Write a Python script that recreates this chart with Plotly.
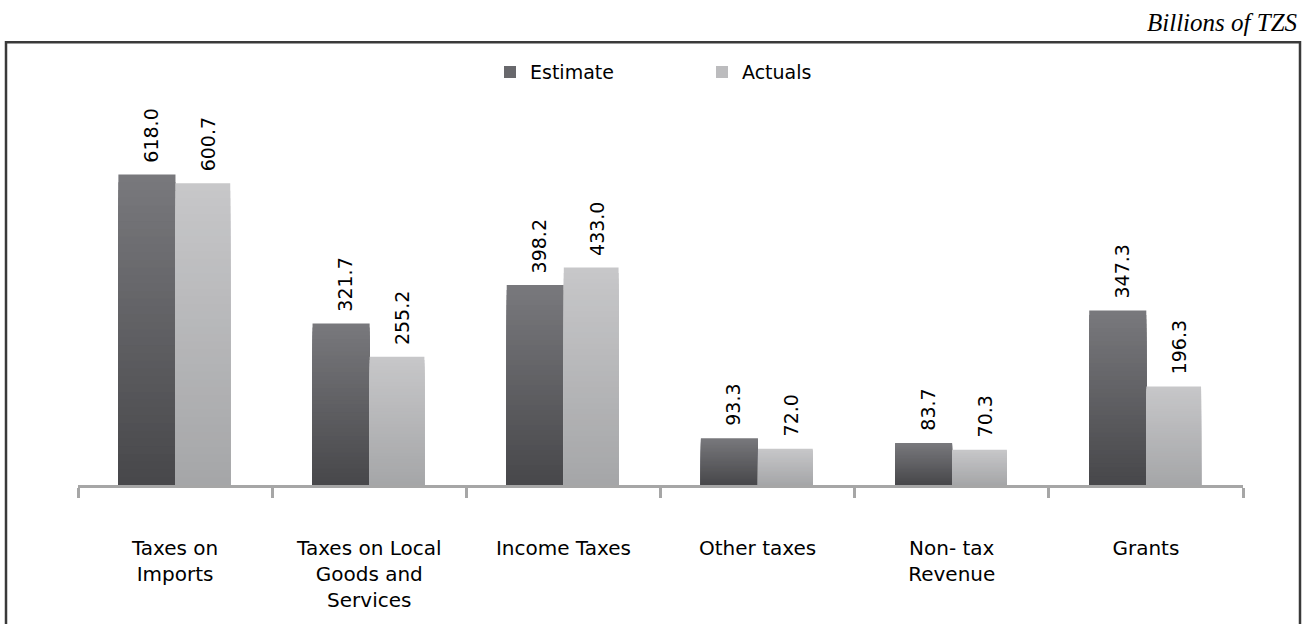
import plotly.graph_objects as go

# Revenue by source, billions of TZS
categories = ["Taxes on Imports", "Taxes on Local Goods and Services", "Income Taxes",
              "Other taxes", "Non-tax Revenue", "Grants"]
tick_labels = ["Taxes on<br>Imports", "Taxes on Local<br>Goods and<br>Services", "Income Taxes",
               "Other taxes", "Non- tax<br>Revenue", "Grants"]
estimate = [618.0, 321.7, 398.2, 93.3, 83.7, 347.3]
actuals = [600.7, 255.2, 433.0, 72.0, 70.3, 196.3]

W, H = 1313, 624
ML, MR, MT, MB = 78, 70, 100, 137
PW, PH = W - ML - MR, H - MT - MB
Y_MAX = 766.5

FONT = "DejaVu Sans"


def lerp(c1, c2, t):
    return "rgb(%d,%d,%d)" % tuple(round(a + (b - a) * t) for a, b in zip(c1, c2))


series = [
    dict(name="Estimate", vals=estimate, top=(0x79, 0x79, 0x7d), bot=(0x47, 0x47, 0x4a),
         offset=-0.292, width=0.294),
    dict(name="Actuals", vals=actuals, top=(0xc7, 0xc7, 0xc9), bot=(0xa5, 0xa6, 0xa8),
         offset=0.002, width=0.282),
]

N = 40  # vertical gradient steps per bar
fig = go.Figure()
for s in series:
    for k in range(N):
        frac = 1 - k / N
        fig.add_trace(go.Bar(
            x=categories,
            y=[v * frac for v in s["vals"]],
            offset=s["offset"], width=s["width"],
            marker=dict(color=lerp(s["top"], s["bot"], (k + 0.5) / N), line=dict(width=0)),
            name=s["name"], legendgroup=s["name"],
            showlegend=(k == N // 3),
            hoverinfo="skip",
        ))

# value labels above each bar
annotations = []
for s, shift in ((series[0], -24), (series[1], 33)):
    for c, v in zip(categories, s["vals"]):
        annotations.append(dict(
            x=c, y=v, xref="x", yref="y", text=f"{v:.1f}", showarrow=False,
            textangle=-90, xanchor="center", yanchor="bottom", xshift=shift, yshift=10,
            font=dict(family=FONT, size=19, color="#000000"),
        ))

annotations.append(dict(
    x=(1300 - ML) / PW, y=(H - MB - 22) / PH, xref="paper", yref="paper",
    text="<i>Billions of TZS</i>", showarrow=False, xanchor="right", yanchor="middle",
    font=dict(family="Liberation Serif", size=25, color="#000000"),
))

# outer frame
shapes = [dict(
    type="rect", xref="paper", yref="paper",
    x0=(6 - ML) / PW, x1=(1300 - ML) / PW,
    y0=(H - MB - 700) / PH, y1=(H - MB - 42) / PH,
    line=dict(color="#3a3a3a", width=2.5), fillcolor="rgba(0,0,0,0)",
)]

fig.update_layout(
    width=W, height=H,
    margin=dict(l=ML, r=MR, t=MT, b=MB),
    paper_bgcolor="white", plot_bgcolor="white",
    barmode="overlay",
    font=dict(family=FONT, size=18, color="#000000"),
    xaxis=dict(
        categoryorder="array", categoryarray=categories,
        tickmode="array", tickvals=categories, ticktext=tick_labels,
        tickson="boundaries", ticks="outside", ticklen=10, tickwidth=3, tickcolor="#a6a6a6",
        showline=True, linecolor="#a6a6a6", linewidth=3,
        showgrid=False, zeroline=False, ticklabelstandoff=43,
        tickfont=dict(family=FONT, size=20, color="#000000"),
        range=[-0.5, 5.5],
    ),
    yaxis=dict(visible=False, range=[0, Y_MAX], showgrid=False),
    legend=dict(
        orientation="h", x=(490 - ML) / PW, y=(H - MB - 72) / PH,
        xanchor="left", yanchor="middle",
        entrywidth=167, entrywidthmode="pixels",
        font=dict(family=FONT, size=19, color="#000000"),
        bgcolor="rgba(0,0,0,0)", traceorder="normal",
    ),
    annotations=annotations,
    shapes=shapes,
    showlegend=True,
)

fig.write_html("out.html")
